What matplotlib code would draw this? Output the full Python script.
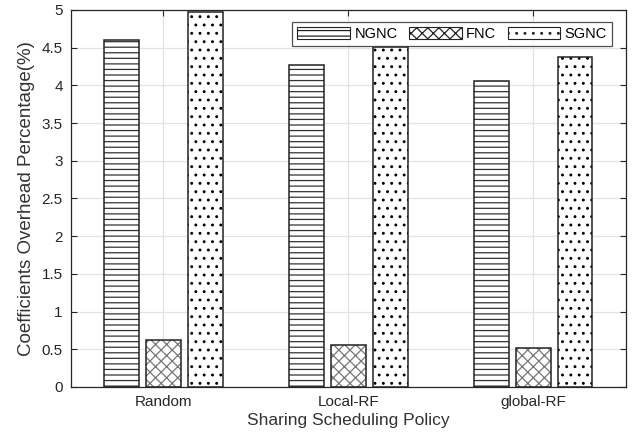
import numpy as np
import matplotlib
matplotlib.use("Agg")
import matplotlib.pyplot as plt
from matplotlib.patches import Patch

# data
policies = ["Random", "Local-RF", "global-RF"]
series = ["NGNC", "FNC", "SGNC"]
ngnc = [4.60, 4.27, 4.06]
fnc = [0.62, 0.56, 0.52]
sgnc = [4.97, 4.51, 4.37]

plt.rcParams['font.family'] = ['Liberation Sans', 'DejaVu Sans']
plt.rcParams['hatch.linewidth'] = 0.9

fig = plt.figure(figsize=(6.35, 4.4), dpi=100)
ax = fig.add_axes([0.1118, 0.1205, 0.874, 0.857])

x = np.arange(1, len(policies) + 1)
w = 0.184
off = 0.227
hatches = ["---", "xxx", ".."]
hcols = ["#333333", "#777777", "black"]

for i, vals in enumerate([ngnc, fnc, sgnc]):
    pos = x + (i - 1) * off
    # hatch layer, then black outline on top
    ax.bar(pos, vals, w, facecolor="white", edgecolor=hcols[i], hatch=hatches[i], linewidth=0, zorder=2)
    ax.bar(pos, vals, w, facecolor="none", edgecolor="#222222", linewidth=1.1, zorder=3)

ax.set_xlim(0.5, 3.5)
ax.set_ylim(0, 5)
ax.set_yticks(np.arange(0, 5.01, 0.5))
ax.set_yticklabels(["0", "0.5", "1", "1.5", "2", "2.5", "3", "3.5", "4", "4.5", "5"])
ax.set_xticks(x)
ax.set_xticklabels(policies)
ax.grid(True, color="#e3e3e3", linewidth=0.9, zorder=0)
ax.set_axisbelow(True)
ax.tick_params(direction="in", top=True, right=True, labelsize=11, colors="#262626", length=4, pad=6)
for s in ax.spines.values():
    s.set_color("#262626")
    s.set_linewidth(0.9)

ax.set_xlabel("Sharing Scheduling Policy", fontsize=12.5, color="#333333", labelpad=3)
ax.set_ylabel("Coefficients Overhead Percentage(%)", fontsize=13.5, color="#333333", labelpad=5)

handles = []
for i in range(3):
    handles.append(Patch(facecolor="white", edgecolor=hcols[i], hatch=hatches[i], linewidth=0.8))
leg = ax.legend(handles, series, loc="upper right", ncol=3, fontsize=10.5, frameon=True, fancybox=False,
                edgecolor="#262626", handlelength=3.6, handleheight=0.85, columnspacing=0.8,
                handletextpad=0.3, borderpad=0.35, bbox_to_anchor=(0.988, 0.987))
leg.get_frame().set_linewidth(0.9)
for p in leg.get_patches():
    p.set_edgecolor("#222222")

fig.savefig("out.png", dpi=100)
